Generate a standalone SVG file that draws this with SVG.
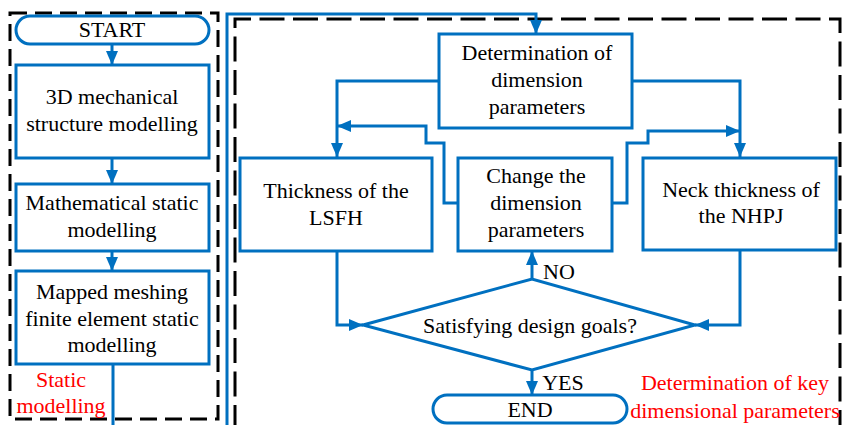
<svg xmlns="http://www.w3.org/2000/svg" width="843" height="425" viewBox="0 0 843 425" font-family="'Liberation Serif', 'DejaVu Serif', serif">
<style>
.box{fill:#fff;stroke:#0070C0;stroke-width:3}
.dash{fill:none;stroke:#000;stroke-width:3;stroke-dasharray:17 8}
.dash2{fill:none;stroke:#000;stroke-width:3;stroke-dasharray:25 8.5}
.conn{fill:none;stroke:#0070C0;stroke-width:3}
text{font-family:'Liberation Serif','DejaVu Serif',serif;font-size:22px;fill:#000;text-anchor:middle}
.red{fill:#FF0000}
</style>
<defs>
<marker id="arr" viewBox="0 0 14 12" refX="14" refY="6" markerWidth="14" markerHeight="12" markerUnits="userSpaceOnUse" orient="auto">
<path d="M0,0 L14,6 L0,12 z" fill="#0070C0"/>
</marker>
</defs>
<rect class="dash" x="10" y="13" width="208" height="406"/>
<path class="dash2" d="M235,430 V19 H840 V430"/>
<g id="connectors">
<path class="conn" d="M112,44 V65" marker-end="url(#arr)"/>
<path class="conn" d="M112,158 V184" marker-end="url(#arr)"/>
<path class="conn" d="M112,251 V271" marker-end="url(#arr)"/>
<path class="conn" d="M113,364 V440 H227 V14 H536 V34" marker-end="url(#arr)"/>
<path class="conn" d="M439,81 H337 V157" marker-end="url(#arr)"/>
<path class="conn" d="M632,81 H740 V157" marker-end="url(#arr)"/>
<path class="conn" d="M458,203 H444 V143 H426 V126 H337" marker-end="url(#arr)"/>
<path class="conn" d="M612,203 H627 V143 H648 V131 H740" marker-end="url(#arr)"/>
<path class="conn" d="M337,251 V325 H363" marker-end="url(#arr)"/>
<path class="conn" d="M740,250 V325 H695" marker-end="url(#arr)"/>
<path class="conn" d="M532,279 V251" marker-end="url(#arr)"/>
<path class="conn" d="M532,370 V395" marker-end="url(#arr)"/>
</g>
<g id="start"><rect class="box" x="16" y="16" width="193" height="28" rx="14"/><text x="112" y="37">START</text></g>
<g id="mech"><rect class="box" x="16" y="65" width="193" height="93"/><text x="112" y="104">3D mechanical</text><text x="112" y="131">structure modelling</text></g>
<g id="math"><rect class="box" x="16" y="184" width="193" height="67"/><text x="112" y="210">Mathematical static</text><text x="112" y="237">modelling</text></g>
<g id="fem"><rect class="box" x="16" y="271" width="193" height="93"/><text x="112" y="299">Mapped meshing</text><text x="112" y="326">finite element static</text><text x="112" y="352">modelling</text></g>
<g id="static-label"><text class="red" x="61" y="387">Static</text><text class="red" x="61" y="413">modelling</text></g>
<g id="det"><rect class="box" x="439" y="34" width="193" height="94"/><text x="537" y="60">Determination of</text><text x="537" y="87">dimension</text><text x="537" y="114">parameters</text></g>
<g id="lsfh"><rect class="box" x="240" y="158" width="192" height="93"/><text x="336" y="198">Thickness of the</text><text x="336" y="225">LSFH</text></g>
<g id="change"><rect class="box" x="458" y="158" width="154" height="93"/><text x="536" y="183">Change the</text><text x="536" y="210">dimension</text><text x="536" y="237">parameters</text></g>
<g id="nhpj"><rect class="box" x="643" y="158" width="193" height="92"/><text x="741" y="197">Neck thickness of</text><text x="741" y="223">the NHPJ</text></g>
<g id="decision"><polygon class="box" points="363,325 532,279 695,325 532,370"/><text x="530" y="333">Satisfying design goals?</text></g>
<g id="no-label"><text x="559" y="279">NO</text></g>
<g id="yes-label"><text x="563" y="390">YES</text></g>
<g id="end"><rect class="box" x="433" y="395" width="194" height="28" rx="14"/><text x="530" y="417">END</text></g>
<g id="key-label"><text class="red" x="735" y="390">Determination of key</text><text class="red" x="735" y="418">dimensional parameters</text></g>
</svg>
